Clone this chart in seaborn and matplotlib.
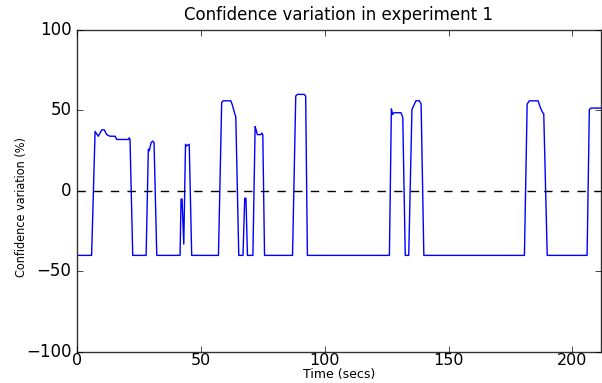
import matplotlib
matplotlib.use("Agg")
import matplotlib.pyplot as plt
import seaborn as sns
import pandas as pd

time_secs = [0, 5.9, 7.3, 8.6, 10.0, 11.0, 12.0, 13.3, 15.4, 16.0, 20.7, 21.1, 21.4, 22.5,
             27.9, 28.8, 29.2, 29.9, 30.6, 31.1, 32.2,
             41.6, 42.0, 42.4, 43.1, 43.8, 44.2, 45.3, 46.3,
             57.1, 58.4, 59.0, 62.1, 62.8, 63.5, 64.1, 65.3,
             67.0, 67.7, 68.2, 68.8,
             71.0, 71.9, 72.3, 72.8, 74.2, 74.6, 75.0, 75.7,
             87.0, 88.3, 89.0, 91.7, 92.3, 93.0,
             126.1, 126.9, 127.4, 127.9, 130.8, 131.5, 132.5,
             133.9, 135.2, 135.9, 136.8, 138.2, 138.9, 140.0,
             180.6, 181.7, 182.6, 186.1, 187.1, 188.0, 188.4, 189.8,
             205.9, 206.8, 207.5, 212.0]
confidence = [-40, -40, 37, 34, 38, 38, 35, 34, 34, 32, 32, 33, 32, -40,
              -40, 26, 25, 30, 31, 30, -40,
              -40, -5, -5, -33, 29, 28, 29, -40,
              -40, 55, 56, 56, 53, 49, 46, -40,
              -40, -4.5, -4.5, -40,
              -40, 40, 38, 35, 35, 36, 35, -40,
              -40, 59, 60, 60, 59, -40,
              -40, 51, 47.5, 48.6, 48.6, 45.5, -40,
              -40, 50.6, 53, 56, 56, 54, -40,
              -40, 54, 56, 56, 51.6, 48.6, 48, -40,
              -40, 50.6, 51.5, 51.5]
x_ticks = [0, 50, 100, 150, 200]
y_ticks = [-100, -50, 0, 50, 100]

df = pd.DataFrame({"t": time_secs, "c": confidence})

plt.style.use("classic")
plt.rcParams["font.family"] = ["DejaVu Sans"]
fig = plt.figure(figsize=(6.02, 3.83), dpi=100, facecolor="white")
ax = fig.add_axes([0.1279, 0.0810, 0.8704, 0.8407])
ax.set_facecolor("white")

sns.lineplot(data=df, x="t", y="c", estimator=None, sort=False, color="#0000ff", lw=1.0, ax=ax)
ax.axhline(0, color="black", ls="--", lw=1.0, dashes=(6, 6))

ax.set_xlim(0, 211.5)
ax.set_ylim(-100, 100)
ax.set_xticks(x_ticks)
ax.set_yticks(y_ticks)
ax.tick_params(labelsize=12, direction="in", top=True, right=True, length=4)
ax.tick_params(axis="x", pad=0.5, labelsize=11.5)
for s in ax.spines.values():
    s.set_color("#333333")
ax.set_title("Confidence variation in experiment 1", fontsize=12, pad=7)
ax.set_xlabel("Time (secs)", fontsize=9, labelpad=0)
ax.set_ylabel("Confidence variation (%)", fontsize=9, stretch="condensed")
ax.yaxis.set_label_coords(-0.094, 0.45)

fig.savefig("out.png", dpi=100, facecolor="white")
